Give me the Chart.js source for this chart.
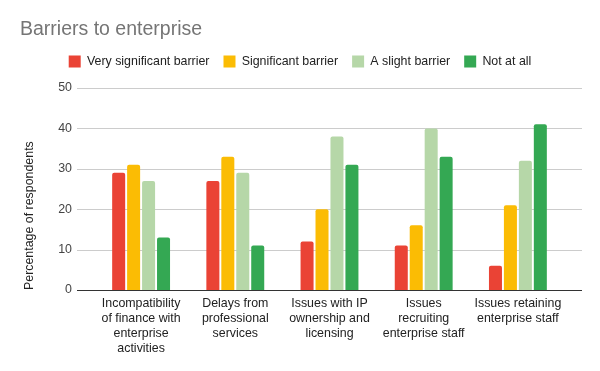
<!DOCTYPE html>
<html><head><meta charset="utf-8">
<script src="https://cdn.jsdelivr.net/npm/chart.js@4.4.1/dist/chart.umd.min.js"></script>
<style>html,body{margin:0;padding:0;background:#fff}</style>
</head><body>
<canvas id="c" width="600" height="371"></canvas>
<script>
const categories = [
  ["Incompatibility", "of finance with", "enterprise", "activities"],
  ["Delays from", "professional", "services"],
  ["Issues with IP", "ownership and", "licensing"],
  ["Issues", "recruiting", "enterprise staff"],
  ["Issues retaining", "enterprise staff"]
];
const seriesNames = ["Very significant barrier", "Significant barrier", "A slight barrier", "Not at all"];
const verySignificant = [29, 27, 12, 11, 6];
const significant = [31, 33, 20, 16, 21];
const slightBarrier = [27, 29, 38, 40, 32];
const notAtAll = [13, 11, 31, 33, 41];
const yTicks = [0, 10, 20, 30, 40, 50];
const seriesColors = ["#ea4335", "#fbbc04", "#b6d7a8", "#34a853"];

const FONT = "'Liberation Sans', Arial, sans-serif";
const seriesValues = [verySignificant, significant, slightBarrier, notAtAll];

const extGrid = {
  id: 'extGrid',
  beforeDatasetsDraw(chart) {
    const {ctx, chartArea: a, scales: {y}} = chart;
    ctx.save();
    ctx.lineWidth = 1;
    ctx.strokeStyle = '#cccccc';
    yTicks.forEach(v => {
      if (v === 0) return;
      const py = Math.round(y.getPixelForValue(v)) + 0.5;
      ctx.beginPath(); ctx.moveTo(a.left - 17, py); ctx.lineTo(a.right + 17, py); ctx.stroke();
    });
    ctx.restore();
  },
  afterDatasetsDraw(chart) {
    const {ctx, chartArea: a, scales: {y}} = chart;
    ctx.save();
    ctx.lineWidth = 1;
    ctx.strokeStyle = '#333333';
    const py = Math.round(y.getPixelForValue(0)) + 0.5;
    ctx.beginPath(); ctx.moveTo(a.left - 17, py); ctx.lineTo(a.right + 17, py); ctx.stroke();
    ctx.restore();
  }
};

new Chart(document.getElementById('c'), {
  type: 'bar',
  data: {
    labels: categories,
    datasets: seriesNames.map((name, i) => ({
      label: name,
      data: seriesValues[i],
      backgroundColor: seriesColors[i],
      borderWidth: 0,
      borderRadius: 2,
      categoryPercentage: 0.635,
      barPercentage: 0.87
    }))
  },
  options: {
    responsive: false,
    animation: false,
    devicePixelRatio: 1,
    layout: {padding: {left: 20, right: 20, top: 0, bottom: 0}},
    plugins: {
      title: {
        display: true,
        text: 'Barriers to enterprise',
        align: 'start',
        color: '#757575',
        font: {family: FONT, size: 19.5, weight: 'normal'},
        padding: {top: 17.8, bottom: 0}
      },
      legend: {
        display: true,
        position: 'top',
        labels: {
          boxWidth: 12, boxHeight: 12, padding: 14,
          color: '#222222',
          font: {family: FONT, size: 12.4}
        }
      },
      tooltip: {enabled: false}
    },
    scales: {
      x: {
        grid: {display: false, drawTicks: false},
        border: {display: false},
        ticks: {
          color: '#222222', font: {family: FONT, size: 12.4},
          maxRotation: 0, autoSkip: false, padding: 6
        },
        afterFit(s) { s.height = 81; }
      },
      xTop: {
        type: 'category', position: 'top', labels: [''],
        grid: {display: false, drawTicks: false}, border: {display: false},
        ticks: {display: false},
        afterFit(s) { s.height = 10.4; }
      },
      y: {
        min: 0, max: 50,
        ticks: {stepSize: 10, color: '#444444', font: {family: FONT, size: 12.4}, padding: 22},
        grid: {display: false, drawTicks: false},
        border: {display: false},
        title: {
          display: true, text: 'Percentage of respondents', align: 'start',
          color: '#222222', font: {family: FONT, size: 12.4},
          padding: {top: 2.5, bottom: 0}
        },
        afterFit(s) { s.width = 74; }
      },
      yRight: {
        position: 'right', min: 0, max: 50,
        grid: {display: false, drawTicks: false}, border: {display: false},
        ticks: {display: false},
        afterFit(s) { s.width = 15; }
      }
    }
  },
  plugins: [extGrid]
});
</script>
</body></html>
